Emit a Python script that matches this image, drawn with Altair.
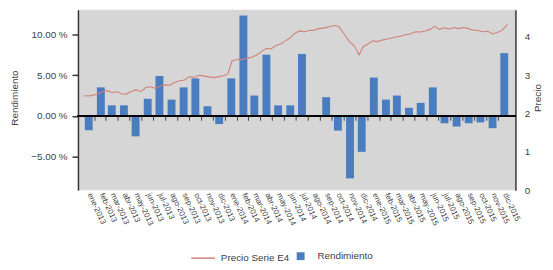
import altair as alt
import pandas as pd

# Monthly returns (%), Jan-2013 .. Dec-2015
rendimiento = [-1.75, 3.5, 1.3, 1.3, -2.5, 2.1, 4.9, 2.0, 3.5, 4.6, 1.2, -1.0,
               4.6, 12.3, 2.5, 7.5, 1.3, 1.3, 7.6, 0.1, 2.3, -1.8, -7.65, -4.4,
               4.7, 2.0, 2.5, 1.0, 1.6, 3.5, -0.9, -1.3, -0.9, -0.8, -1.5, 7.7]

# Price series
precio_fechas = [
    "2013-01-03", "2013-01-23", "2013-02-09", "2013-02-21", "2013-03-04", "2013-03-16",
    "2013-03-29", "2013-04-10", "2013-04-22", "2013-05-05", "2013-05-17", "2013-05-30",
    "2013-06-11", "2013-06-23", "2013-07-06", "2013-07-18", "2013-07-31", "2013-08-12",
    "2013-08-25", "2013-09-06", "2013-09-18", "2013-10-01", "2013-10-13", "2013-10-26",
    "2013-11-07", "2013-11-19", "2013-12-01", "2013-12-13", "2013-12-26", "2014-01-07",
    "2014-01-18", "2014-02-02", "2014-02-14", "2014-02-26", "2014-03-09", "2014-03-22",
    "2014-04-03", "2014-04-15", "2014-04-28", "2014-05-10", "2014-05-22", "2014-06-04",
    "2014-06-16", "2014-06-28", "2014-07-10", "2014-07-22", "2014-08-04", "2014-08-16",
    "2014-08-28", "2014-09-12", "2014-09-24", "2014-10-06", "2014-10-18", "2014-11-01",
    "2014-11-10", "2014-11-16", "2014-11-24", "2014-12-01", "2014-12-09", "2014-12-19",
    "2015-01-01", "2015-01-13", "2015-01-25", "2015-02-06", "2015-02-19", "2015-03-01",
    "2015-03-13", "2015-03-25", "2015-04-07", "2015-04-19", "2015-05-02", "2015-05-15",
    "2015-05-27", "2015-06-09", "2015-06-21", "2015-07-03", "2015-07-15", "2015-07-28",
    "2015-08-09", "2015-08-21", "2015-09-03", "2015-09-15", "2015-09-28", "2015-10-10",
    "2015-10-22", "2015-11-04", "2015-11-16", "2015-11-28", "2015-12-11", "2015-12-24",
]
precio_valores = [
    2.46, 2.47, 2.52, 2.58, 2.60, 2.55,
    2.57, 2.52, 2.51, 2.58, 2.62, 2.58,
    2.68, 2.70, 2.66, 2.72, 2.75, 2.74,
    2.82, 2.86, 2.88, 2.96, 2.95, 3.00,
    2.98, 2.96, 2.94, 2.96, 2.99, 3.03,
    3.38, 3.42, 3.41, 3.45, 3.47, 3.53,
    3.62, 3.70, 3.69, 3.78, 3.82, 3.90,
    3.98, 4.10, 4.16, 4.14, 4.17, 4.18,
    4.22, 4.24, 4.27, 4.30, 4.28, 4.08,
    3.95, 3.86, 3.80, 3.70, 3.53, 3.74,
    3.82, 3.90, 3.88, 3.92, 3.95, 3.97,
    4.00, 4.02, 4.06, 4.08, 4.14, 4.13,
    4.16, 4.20, 4.28, 4.20, 4.24, 4.21,
    4.25, 4.22, 4.25, 4.22, 4.18, 4.17,
    4.14, 4.15, 4.08, 4.12, 4.18, 4.33,
]

meses = pd.date_range("2013-01-01", periods=36, freq="MS")
centros = meses + pd.Timedelta(days=15)

bars_df = pd.DataFrame({"fecha": centros, "rend": rendimiento, "serie": "Rendimiento"})
line_df = pd.DataFrame({"fecha": pd.to_datetime(precio_fechas), "precio": precio_valores,
                        "serie": "Precio Serie E4"})
ticks_df = pd.DataFrame({"fecha": meses[1:]})

FONT = "Liberation Sans"
TXT = "#404040"

x_scale = alt.Scale(domain=[alt.DateTime(year=2013, month=1, date=1),
                            alt.DateTime(year=2016, month=1, date=1)])


def x_axis():
    return alt.Axis(
        values=[alt.DateTime(year=d.year, month=d.month, date=d.day) for d in centros],
        labelExpr="['ene','feb','mar','abr','may','jun','jul','ago','sep','oct','nov','dic'][month(datum.value)] + '-' + timeFormat(datum.value, '%Y')",
        labelAngle=65, labelAlign="left", labelBaseline="middle",
        labelFontSize=8, labelColor=TXT, labelFont=FONT, labelPadding=3,
        ticks=False, domain=False, grid=False, title=None,
        labelOverlap=False, labelSeparation=0, labelBound=False, labelFlush=False,
    )


y_left = alt.Scale(domain=[-9.1, 13.0], nice=False, zero=False)
y_left_axis = alt.Axis(
    values=[-5, 0, 5, 10], labelExpr="format(datum.value, '.2f') + ' %'",
    title="Rendimiento", titleX=-64, titleY=89, titleAngle=270,
    titleAlign="center", titleBaseline="middle",
    titleFont=FONT, titleFontSize=10, titleFontWeight="normal", titleColor=TXT,
    labelFont=FONT, labelFontSize=10, labelColor=TXT, labelPadding=5,
    tickSize=6, tickColor="#333333", tickWidth=1.5,
    domainColor="#333333", domainWidth=1.5, grid=False,
)

bars = alt.Chart(bars_df).mark_bar(width=8).encode(
    x=alt.X("fecha:T", scale=x_scale, axis=x_axis()),
    y=alt.Y("rend:Q", scale=y_left, axis=y_left_axis),
    color=alt.Color("serie:N", scale=alt.Scale(domain=["Rendimiento"], range=["#4a7dbf"]),
                    legend=alt.Legend(orient="none", legendX=221, legendY=245, title=None,
                                      symbolType="square", symbolSize=64, symbolStrokeWidth=0,
                                      labelOffset=12, labelFont=FONT, labelFontSize=10,
                                      labelColor=TXT, padding=0)),
)

zero = alt.Chart(bars_df).mark_rule(color="black", strokeWidth=1.5).encode(y=alt.datum(0))

ticks = alt.Chart(ticks_df).mark_tick(orient="vertical", size=5, thickness=1,
                                      color="black", yOffset=2.5).encode(
    x=alt.X("fecha:T", scale=x_scale, axis=x_axis()), y=alt.datum(0))

left = alt.layer(bars, zero, ticks)

line = alt.Chart(line_df).mark_line(strokeWidth=1.1).encode(
    x=alt.X("fecha:T", scale=x_scale, axis=x_axis()),
    y=alt.Y("precio:Q", scale=alt.Scale(domain=[0, 4.71], nice=False),
            axis=alt.Axis(orient="right", values=[0, 1, 2, 3, 4], ticks=False,
                          labelPadding=9, labelFont=FONT, labelFontSize=10, labelColor=TXT,
                          domainColor="#333333", domainWidth=1.5, grid=False,
                          title="Precio", titleX=22, titleY=89, titleAngle=270,
                          titleAlign="center", titleBaseline="middle",
                          titleFont=FONT, titleFontSize=10, titleFontWeight="normal",
                          titleColor=TXT)),
    stroke=alt.Stroke("serie:N", scale=alt.Scale(domain=["Precio Serie E4"], range=["#d08279"]),
                      legend=alt.Legend(orient="none", legendX=114, legendY=239, title=None,
                                        symbolType="stroke", symbolSize=576,
                                        symbolStrokeWidth=1.5, labelOffset=5,
                                        labelFont=FONT, labelFontSize=10, labelColor=TXT,
                                        padding=0)),
)

chart = alt.layer(left, line).resolve_scale(
    y="independent", color="independent", stroke="independent"
).properties(
    width=444, height=183,
    autosize=alt.AutoSizeParams(type="none"),
    padding={"left": 71, "top": 0, "right": 30, "bottom": 71},
    background="white",
).configure_view(fill="#d6d6d6", stroke=None)

chart.save("out.html", embed_options={"renderer": "svg", "actions": False})
